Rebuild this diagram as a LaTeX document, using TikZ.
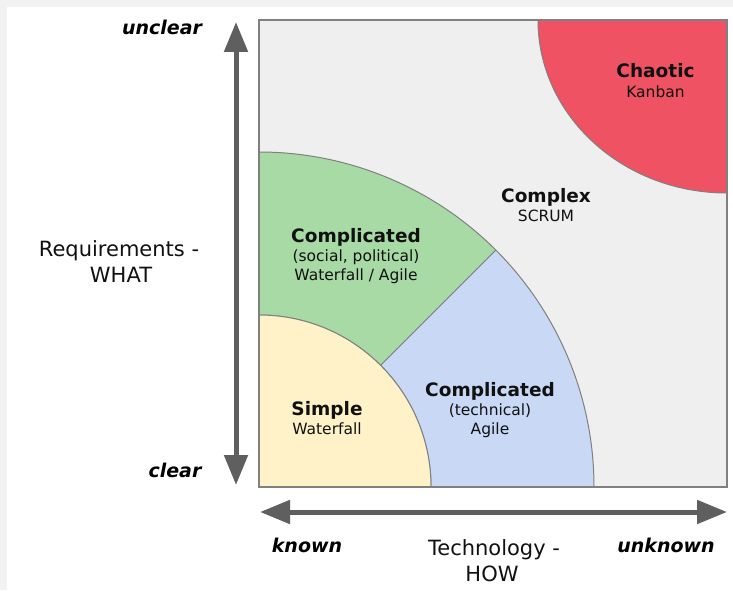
\documentclass[tikz,border=0pt]{standalone}
\usepackage{fontspec}
\setmainfont{DejaVu Sans}
\usetikzlibrary{arrows.meta,calc}
\definecolor{bandgrey}{HTML}{F2F2F2}
\definecolor{boxgrey}{HTML}{EFEFEF}
\definecolor{edgegrey}{HTML}{808080}
\definecolor{chaosred}{HTML}{EF5263}
\definecolor{compgreen}{HTML}{A8DAA5}
\definecolor{compblue}{HTML}{C8D8F5}
\definecolor{simpleyellow}{HTML}{FFF2C8}
\definecolor{arrowgrey}{HTML}{5F5F5F}
\definecolor{txt}{HTML}{111111}
\begin{document}
\begin{tikzpicture}[x=1pt,y=1pt,
  region/.style={draw=edgegrey,line width=1pt},
  boldlbl/.style={anchor=base,inner sep=0pt,font=\bfseries\fontsize{18.5}{22}\selectfont,text=txt},
  sublbl/.style={anchor=base,inner sep=0pt,font=\fontsize{15.5}{18}\selectfont,text=txt},
  axislbl/.style={anchor=base,inner sep=0pt,font=\fontsize{21}{25}\selectfont,text=txt},
  endlbl/.style={anchor=base,inner sep=0pt,font=\bfseries\itshape\fontsize{19}{22}\selectfont,text=black},
  bigarrow/.style={draw=arrowgrey,line width=5pt,{Triangle[length=30pt,width=23pt]}-{Triangle[length=30pt,width=23pt]}}]
\useasboundingbox (0,0) rectangle (733,590);
\fill[bandgrey] (0,0) rectangle (733,590);
\fill[white] (7,0) rectangle (733,583);
% quadrant box
\coordinate (c) at (259,103);
\coordinate (tr) at (727,570);
\fill[boxgrey] (c) rectangle (tr);
% chaotic
\path[region,fill=chaosred] (538,570) arc[start angle=180,end angle=270,x radius=189pt,y radius=173pt] -- (tr) -- cycle;
% complicated social
\path[region,fill=compgreen] ($(c)+(45:335pt)$) arc[start angle=45,end angle=90,radius=335pt] -- ($(c)+(90:172pt)$) arc[start angle=90,end angle=45,radius=172pt] -- cycle;
% complicated technical
\path[region,fill=compblue] ($(c)+(0:335pt)$) arc[start angle=0,end angle=45,radius=335pt] -- ($(c)+(45:172pt)$) arc[start angle=45,end angle=0,radius=172pt] -- cycle;
% simple
\path[region,fill=simpleyellow] (c) -- ($(c)+(0:172pt)$) arc[start angle=0,end angle=90,radius=172pt] -- cycle;
\draw[edgegrey,line width=1.5pt] (c) rectangle (tr);
% axes
\coordinate (vt) at (236,568);
\coordinate (vb) at (236,105);
\coordinate (hl) at (260,78);
\coordinate (hr) at (727,78);
\draw[bigarrow] (vt) -- (vb);
\draw[bigarrow] (hl) -- (hr);
% region labels
\node[boldlbl] (chaotic) at (655.5,512) {Chaotic};
\node[sublbl] (kanban) at (655.5,492.5) {Kanban};
\node[boldlbl] (complex) at (546,387) {Complex};
\node[sublbl] (scrum) at (546,368) {SCRUM};
\node[boldlbl] (compsoc) at (356,348) {Complicated};
\node[sublbl] (social) at (356,329) {(social, political)};
\node[sublbl] (wfagile) at (356,310) {Waterfall / Agile};
\node[boldlbl] (comptech) at (490,194) {Complicated};
\node[sublbl] (technical) at (490,175) {(technical)};
\node[sublbl] (agile) at (490,156) {Agile};
\node[boldlbl] (simple) at (327,175) {Simple};
\node[sublbl] (waterfall) at (327,156) {Waterfall};
% axis labels
\node[endlbl] (unclear) at (162,555) {unclear};
\node[endlbl] (clear) at (175,113) {clear};
\node[axislbl] (req) at (119,334) {Requirements -};
\node[axislbl] (what) at (121,308) {WHAT};
\node[endlbl] (known) at (307,38) {known};
\node[endlbl] (unknown) at (666,38) {unknown};
\node[axislbl] (tech) at (494,35) {Technology -};
\node[axislbl] (how) at (492,9) {HOW};
\end{tikzpicture}
\end{document}
